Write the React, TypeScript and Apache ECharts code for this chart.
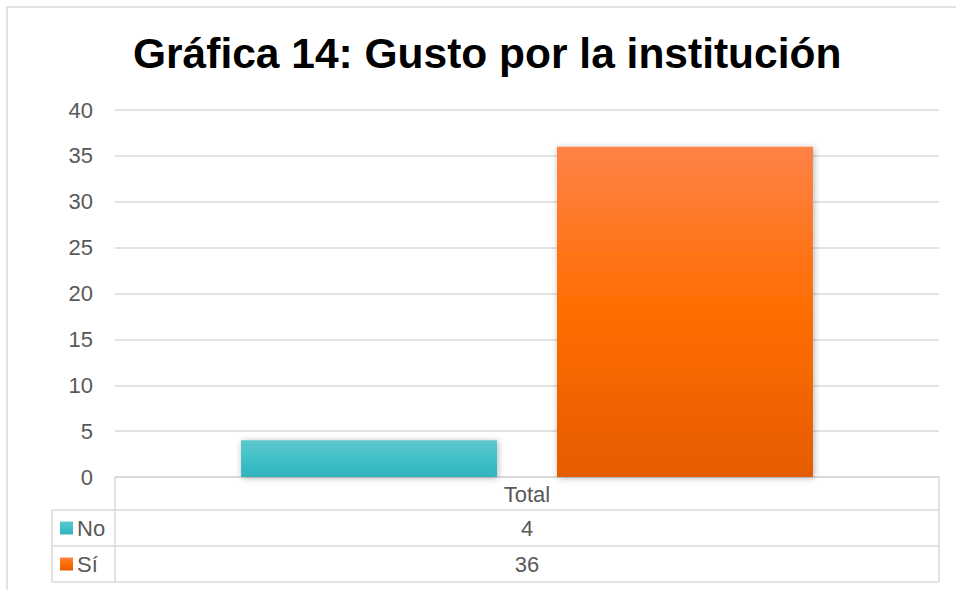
import React, { useEffect, useRef } from "react";
import * as echarts from "echarts";

const titleText = "Gráfica 14: Gusto por la institución";
const categories = ["Total"];
const seriesNames = ["No", "Sí"];
const seriesValues = [[4], [36]];
const yTicks = { min: 0, max: 40, interval: 5 };

const gradients = [
  ["#5ec7cc", "#41c0c9", "#31b3bd"],
  ["#ff8247", "#ff6d00", "#e55c00"],
];

const grad = (c: string[]) =>
  new echarts.graphic.LinearGradient(0, 0, 0, 1, [
    { offset: 0, color: c[0] },
    { offset: 0.5, color: c[1] },
    { offset: 1, color: c[2] },
  ]);

const GRID_L = 115;
const GRID_R = 939;
const GRID_T = 110;
const GRID_B = 477;
const ROW1 = 510;
const ROW2 = 546;
const ROW3 = 582;
const LEG_L = 52;
const LINE = "#d9d9d9";
const TXT = "#595959";
const FS = 22;
const FONT = "Liberation Sans, Arial, sans-serif";

export default function App() {
  const ref = useRef<HTMLDivElement>(null);
  useEffect(() => {
    if (!ref.current) return;
    const chart = echarts.init(ref.current, undefined, { renderer: "svg" });
    const hline = (x1: number, x2: number, y: number) => ({
      type: "line",
      shape: { x1, y1: y, x2, y2: y },
      style: { stroke: LINE, lineWidth: 1.5 },
      silent: true,
    });
    const vline = (x: number, y1: number, y2: number) => ({
      type: "line",
      shape: { x1: x, y1, x2: x, y2 },
      style: { stroke: LINE, lineWidth: 1.5 },
      silent: true,
    });
    const rowYs = [ROW1, ROW2];
    const tableGraphics: any[] = [
      {
        type: "rect",
        shape: { x: 7, y: 7, width: 1000, height: 1000 },
        style: { fill: "none", stroke: LINE, lineWidth: 1.5 },
        silent: true,
      },
      hline(LEG_L, GRID_R, ROW1),
      hline(LEG_L, GRID_R, ROW2),
      hline(LEG_L, GRID_R, ROW3),
      vline(LEG_L, ROW1, ROW3),
      vline(GRID_L, GRID_B, ROW3),
      vline(GRID_R, GRID_B, ROW3),
    ];
    seriesNames.forEach((name, i) => {
      const top = rowYs[i];
      const mid = top + (ROW2 - ROW1) / 2;
      tableGraphics.push({
        type: "rect",
        shape: { x: 60, y: mid - 6.5, width: 13, height: 13 },
        style: { fill: grad(gradients[i]) },
        silent: true,
      });
      tableGraphics.push({
        type: "text",
        x: 77,
        y: mid,
        style: {
          text: name,
          fontSize: FS,
          fontFamily: FONT,
          fill: TXT,
          align: "left",
          verticalAlign: "middle",
        },
        silent: true,
      });
      tableGraphics.push({
        type: "text",
        x: (GRID_L + GRID_R) / 2,
        y: mid,
        style: {
          text: String(seriesValues[i][0]),
          fontSize: FS,
          fontFamily: FONT,
          fill: TXT,
          align: "center",
          verticalAlign: "middle",
        },
        silent: true,
      });
    });

    chart.setOption({
      animation: false,
      backgroundColor: "#ffffff",
      title: {
        text: titleText,
        left: 128,
        top: 27,
        textStyle: {
          fontSize: 42.5,
          fontWeight: "bold",
          color: "#000000",
          fontFamily: FONT,
        },
      },
      grid: {
        left: GRID_L,
        right: 956 - GRID_R,
        top: GRID_T,
        bottom: 590 - GRID_B,
        containLabel: false,
      },
      xAxis: {
        type: "category",
        data: categories,
        axisLine: { lineStyle: { color: LINE, width: 1.5 } },
        axisTick: { show: false },
        axisLabel: {
          fontSize: FS,
          color: TXT,
          fontFamily: FONT,
          margin: 5,
          lineHeight: 24,
        },
      },
      yAxis: {
        type: "value",
        min: yTicks.min,
        max: yTicks.max,
        interval: yTicks.interval,
        axisLine: { show: false },
        axisTick: { show: false },
        splitLine: { lineStyle: { color: LINE, width: 1.5 } },
        axisLabel: {
          fontSize: FS,
          color: TXT,
          fontFamily: FONT,
          margin: 22,
        },
      },
      series: seriesNames.map((name, i) => ({
        name,
        type: "bar",
        data: seriesValues[i],
        barWidth: 256,
        barGap: "23.4%",
        itemStyle: {
          color: grad(gradients[i]),
          shadowBlur: 6,
          shadowColor: "rgba(0,0,0,0.3)",
          shadowOffsetX: 1,
          shadowOffsetY: 1,
        },
      })),
      graphic: tableGraphics,
    });
    return () => chart.dispose();
  }, []);
  return (
    <div
      ref={ref}
      style={{ position: "fixed", left: 0, top: 0, width: 956, height: 590 }}
    />
  );
}
